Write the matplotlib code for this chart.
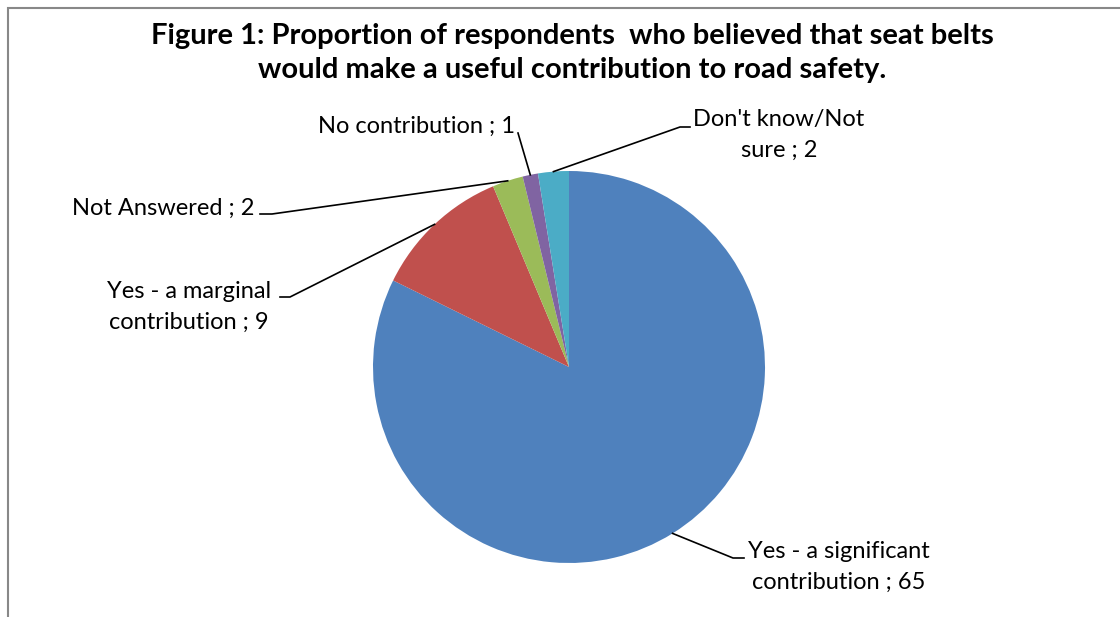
import matplotlib.pyplot as plt
from matplotlib.patches import Rectangle
import numpy as np

plt.rcParams['font.family'] = ['Lato', 'DejaVu Sans']

categories = ['Yes - a significant\ncontribution', 'Yes - a marginal\ncontribution',
              'Not Answered', 'No contribution', "Don't know/Not\nsure"]
values = [65, 9, 2, 1, 2]
colors = ['#4F81BD', '#C0504D', '#9BBB59', '#8064A2', '#4BACC6']
title = ('Figure 1: Proportion of respondents  who believed that seat belts\n'
         'would make a useful contribution to road safety.')

W, H = 1120, 617
fig = plt.figure(figsize=(W / 100, H / 100), dpi=100)
ax = fig.add_axes([0, 0, 1, 1])

cx, cy, r = 569, H - 367, 196
wedges, _ = ax.pie(values, colors=colors, startangle=90, counterclock=False,
                   center=(cx, cy), radius=r, frame=False)
ax.set_xlim(0, W)
ax.set_ylim(0, H)
ax.set_aspect('equal')
ax.axis('off')

# chart border (only top & left visible in the crop)
ax.add_patch(Rectangle((8, -50), W + 50, H - 8 + 50, fill=False,
                       edgecolor='#888888', lw=1.5))

ax.text(572, H - 53, title, ha='center', va='center', fontsize=21,
        fontweight='bold', linespacing=1.4)

# label text position, alignment, leader elbow (pixel coords from top)
layout = [
    ((748, 567), 'left', [(744, 558), (733, 558)]),
    ((271, 307), 'right', [(280, 297), (290, 297)]),
    ((254, 208), 'right', [(260, 214), (272, 214)]),
    ((515, 126), 'right', [(518, 133)]),
    ((779, 135), 'center', [(690, 127), (680, 127)]),
]

for w, lab, v, (tpos, ha, elbow) in zip(wedges, categories, values, layout):
    mid = np.deg2rad((w.theta1 + w.theta2) / 2)
    px, py = cx + r * np.cos(mid), cy + r * np.sin(mid)
    pts = [(x, H - y) for x, y in elbow] + [(px, py)]
    ax.plot([p[0] for p in pts], [p[1] for p in pts], color='black', lw=1.2)
    ax.text(tpos[0], H - tpos[1], f'{lab} ; {v}', ha=ha, va='center',
            fontsize=17, linespacing=1.6, multialignment='center')

fig.savefig('out.png', dpi=100)
